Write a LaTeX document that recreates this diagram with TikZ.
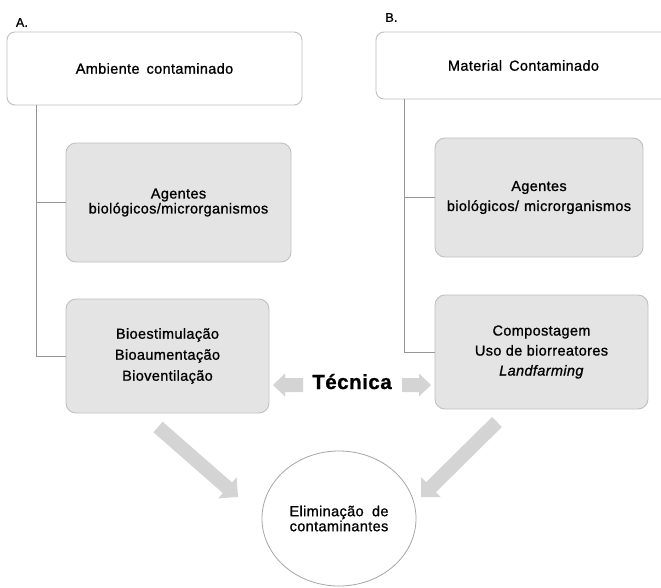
\documentclass[tikz,border=0pt]{standalone}
\usepackage{fontspec}
\setmainfont{Liberation Sans}[FakeBold=1,LetterSpace=2.5]
\usetikzlibrary{calc,shapes.geometric}
\definecolor{boxfill}{RGB}{228,228,228}
\definecolor{boxline}{RGB}{192,192,192}
\definecolor{connline}{RGB}{150,150,150}
\definecolor{arrfill}{RGB}{212,212,212}
\definecolor{circline}{RGB}{165,165,165}
% #1 tail, #2 tip, #3 half shaft width, #4 half head width, #5 head length
\newcommand\blkarrow[5]{%
  \path ($(#2)!#5!(#1)$) coordinate (hb);
  \fill[arrfill] ($(#1)!#3!90:(#2)$) -- ($(hb)!#3!90:(#2)$) -- ($(hb)!#4!90:(#2)$) -- (#2)
    -- ($(hb)!#4!-90:(#2)$) -- ($(hb)!#3!-90:(#2)$) -- ($(#1)!#3!-90:(#2)$) -- cycle;
}
\begin{document}
\begin{tikzpicture}[x=1pt,y=-1pt,
  topbox/.style={draw=boxline, fill=white, rounded corners=8pt, line width=0.9pt, inner sep=0pt,
    font=\fontsize{14.5}{17}\selectfont},
  greybox/.style={draw=boxline, fill=boxfill, rounded corners=10pt, line width=0.9pt, align=center, inner sep=0pt},
  conn/.style={draw=connline, line width=0.8pt},
  lbl/.style={font=\fontsize{12.5}{14}\selectfont}]
\useasboundingbox (0,0) rectangle (661,587);
\fill[white] (0,0) rectangle (661,587);

\node[lbl] (labA) at (22,22.5) {A.};
\node[lbl] (labB) at (391.5,17.5) {B.};

\node[topbox, minimum width=295pt, minimum height=73pt] (topA) at (154.5,68.5) {Ambiente\hspace{7pt}contaminado};
\node[topbox, minimum width=295pt, minimum height=67pt] (topB) at (523.5,65.5) {Material\hspace{7pt}Contaminado};

\node[greybox, minimum width=225pt, minimum height=119pt, font=\fontsize{14.5}{15}\selectfont] (midA) at (178.5,202.5)
  {Agentes\\biológicos/microrganismos};
\node[greybox, minimum width=208pt, minimum height=119pt, font=\fontsize{14.5}{20}\selectfont] (midB) at (539,197.5)
  {Agentes\\biológicos/\hspace{5pt}microrganismos};

\node[greybox, minimum width=203pt, minimum height=114pt, font=\fontsize{14.5}{21}\selectfont] (botA) at (167.5,356)
  {Bioestimulação\\Bioaumentação\\Bioventilação};
\node[greybox, minimum width=213pt, minimum height=114pt, font=\fontsize{14.5}{20}\selectfont] (botB) at (541.5,352)
  {Compostagem\\Uso de biorreatores\\\textit{Landfarming}};

\draw[conn] (topA.south west) ++(30,0) |- (midA.west);
\draw[conn] (topA.south west) ++(30,0) |- (botA.west);
\draw[conn] (topB.south west) ++(29,0) |- (midB.west);
\draw[conn] (topB.south west) ++(29,0) |- (botB.west);

\node[font=\fontsize{20.5}{24}\selectfont\bfseries, anchor=base, inner sep=0pt] (tec) at (352,389) {Técnica};

\node[ellipse, draw=circline, line width=0.8pt, minimum width=154pt, minimum height=135pt, inner sep=0pt,
  align=center, font=\fontsize{14.5}{15}\selectfont] (elim) at (339,518.5)
  {\makebox[99pt]{Eliminação\hfill de}\\contaminantes};

\coordinate (tlT) at (303,385);
\coordinate (tlH) at (273,385);
\coordinate (trT) at (402,385);
\coordinate (trH) at (431,385);
\coordinate (dlT) at (158,427);
\coordinate (dlH) at (238,497);
\coordinate (drT) at (497,422);
\coordinate (drH) at (421,497);

\blkarrow{tlT}{tlH}{7pt}{11.5pt}{12pt}
\blkarrow{trT}{trH}{7pt}{11.5pt}{12pt}
\blkarrow{dlT}{dlH}{7pt}{14pt}{14pt}
\blkarrow{drT}{drH}{7pt}{14pt}{14pt}
\end{tikzpicture}
\end{document}
